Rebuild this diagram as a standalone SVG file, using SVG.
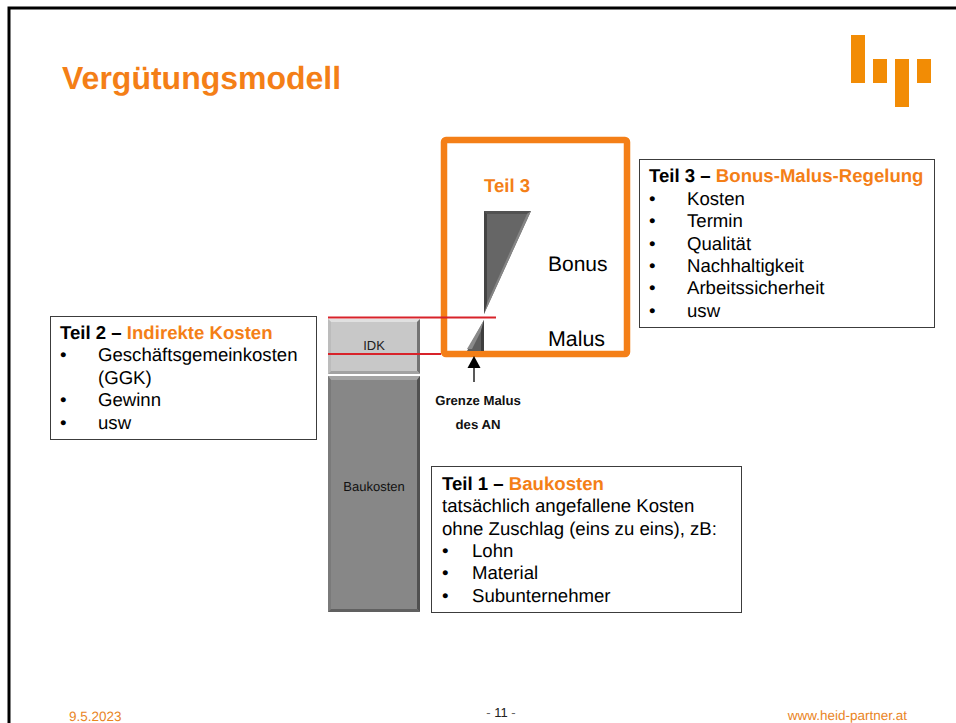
<svg xmlns="http://www.w3.org/2000/svg" width="956" height="723" viewBox="0 0 956 723">
<style>
text{font-family:"Liberation Sans",Arial,sans-serif;fill:#000;text-rendering:geometricPrecision}
.o{fill:#f47f17}
.b{font-weight:700}
.t{font-size:18.600px}
.box{fill:#fff;stroke:#3c3c3c;stroke-width:1}
.foot{font-size:13.500px;fill:#e9851f}
.logo{fill:#f28c05}
</style>
<rect width="956" height="723" fill="#fff"/>
<path d="M9 723V8H956" fill="none" stroke="#000" stroke-width="3"/>
<text id="title" x="62" y="89" class="b" font-size="32" style="fill:#f47f17">Vergütungsmodell</text>
<g id="logo">
<rect class="logo" x="851" y="35" width="14" height="48"/>
<rect class="logo" x="873" y="59" width="14" height="24"/>
<rect class="logo" x="895" y="59" width="14" height="48"/>
<rect class="logo" x="917" y="59" width="14" height="24"/>
</g>
<g id="idk">
<rect x="328" y="319" width="92" height="55" fill="#c8c8c8"/>
<path d="M328 319H420L417 322H331Z" fill="#e0e0e0"/>
<path d="M328 319L331 322V371L328 374Z" fill="#bcbcbc"/>
<path d="M420 319L417 322V371L420 374Z" fill="#747474"/>
<path d="M328 374L331 371H417L420 374Z" fill="#a2a2a2"/>
<text x="374" y="350" text-anchor="middle" font-size="13" style="fill:#222">IDK</text>
</g>
<g id="baukosten">
<rect x="328" y="376" width="92" height="236" fill="#878787"/>
<path d="M328 376H420L417 380H331Z" fill="#a4a4a4"/>
<path d="M328 376L331 380V609L328 612Z" fill="#7a7a7a"/>
<path d="M420 376L417 380V609L420 612Z" fill="#505050"/>
<path d="M328 612L331 609H417L420 612Z" fill="#606060"/>
<text x="374" y="491" text-anchor="middle" font-size="13" style="fill:#111">Baukosten</text>
</g>
<g id="teil3-rahmen">
<rect x="444" y="140" width="183" height="214" rx="2" fill="none" stroke="#f47f17" stroke-width="6.500"/>
<text x="507" y="192" text-anchor="middle" class="b t" style="fill:#f47f17">Teil 3</text>
<text x="548" y="271" font-size="21">Bonus</text>
<text x="548" y="346" font-size="21.400">Malus</text>
</g>
<g id="bonus-dreieck">
<path d="M484 211H531L484 314Z" fill="#666"/>
<path d="M484 211H531L527 214H487Z" fill="#525252"/>
<path d="M531 211L527 214L487 303L484 314Z" fill="#858585"/>
<path d="M484 211L487 214V303L484 314Z" fill="#444"/>
</g>
<g id="malus-dreieck">
<path d="M484 320V351H467Z" fill="#5e5e5e"/>
<path d="M484 320L481 331L472 349H467Z" fill="#8a8a8a"/>
<path d="M484 320V351H481V331Z" fill="#3e3e3e"/>
</g>
<g id="connectors" fill="none">
<path d="M328 317.500H496" stroke="#d8232a" stroke-width="2"/>
<path d="M328 354H441" stroke="#d8232a" stroke-width="2.200"/>
<path d="M474 382V366" stroke="#222" stroke-width="1.500"/>
<path d="M474 356L467.500 368H480.500Z" fill="#000"/>
</g>
<g id="grenze">
<text x="478" y="405" text-anchor="middle" class="b" font-size="13.200" style="fill:#111">Grenze Malus</text>
<text x="478" y="429" text-anchor="middle" class="b" font-size="13.200" style="fill:#111">des AN</text>
</g>
<g id="teil3-box">
<rect class="box" x="639.500" y="159.500" width="295" height="168"/>
<text x="649" y="182" class="b t">Teil 3 – <tspan class="o">Bonus-Malus-Regelung</tspan></text>
<g font-size="18.600">
<text x="649" y="205">•</text><text x="687" y="205">Kosten</text>
<text x="649" y="227">•</text><text x="687" y="227">Termin</text>
<text x="649" y="250">•</text><text x="687" y="250">Qualität</text>
<text x="649" y="272">•</text><text x="687" y="272">Nachhaltigkeit</text>
<text x="649" y="294">•</text><text x="687" y="294">Arbeitssicherheit</text>
<text x="649" y="317">•</text><text x="687" y="317">usw</text>
</g>
</g>
<g id="teil2-box">
<rect class="box" x="50.500" y="316.500" width="266" height="123"/>
<text x="60" y="339" class="b t">Teil 2 – <tspan class="o">Indirekte Kosten</tspan></text>
<g font-size="18.600">
<text x="60" y="361">•</text><text x="98" y="361">Geschäftsgemeinkosten</text>
<text x="98" y="384">(GGK)</text>
<text x="60" y="406">•</text><text x="98" y="406">Gewinn</text>
<text x="60" y="429">•</text><text x="98" y="429">usw</text>
</g>
</g>
<g id="teil1-box">
<rect class="box" x="431.500" y="466.500" width="310" height="146"/>
<text x="442" y="490" class="b t">Teil 1 – <tspan class="o">Baukosten</tspan></text>
<g font-size="18.600">
<text x="442" y="512">tatsächlich angefallene Kosten</text>
<text x="442" y="535">ohne Zuschlag (eins zu eins), zB:</text>
<text x="442" y="557">•</text><text x="472" y="557">Lohn</text>
<text x="442" y="579">•</text><text x="472" y="579">Material</text>
<text x="442" y="602">•</text><text x="472" y="602">Subunternehmer</text>
</g>
</g>
<g id="footer">
<text x="69" y="721" class="foot">9.5.2023</text>
<text x="501" y="717" text-anchor="middle" font-size="13" style="fill:#666">- <tspan style="fill:#222">11</tspan> -</text>
<text x="907" y="720" text-anchor="end" class="foot">www.heid-partner.at</text>
</g>
</svg>
